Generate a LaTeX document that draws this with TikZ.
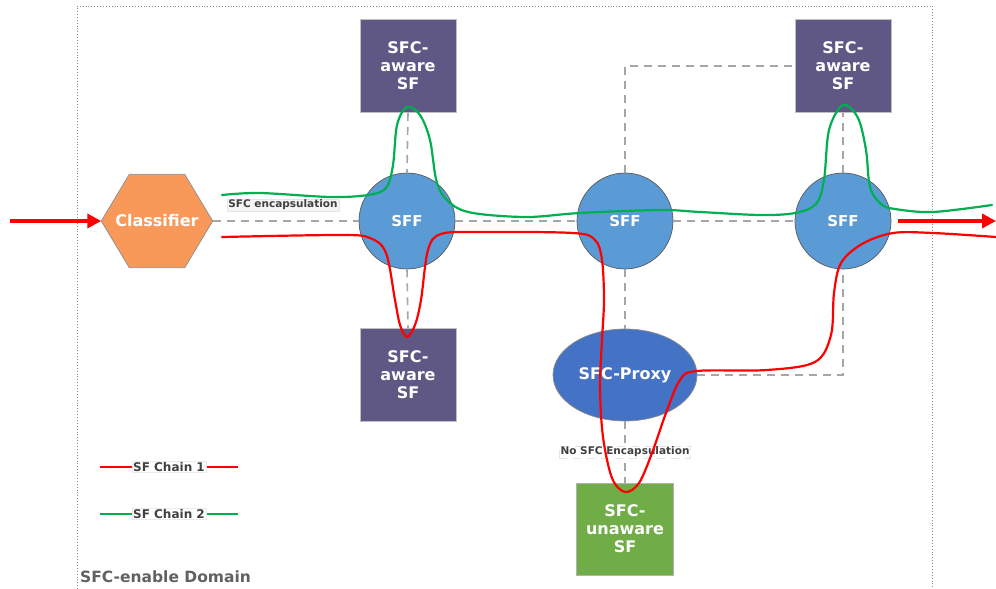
\documentclass[tikz,border=0pt]{standalone}
\usepackage{fontspec}
\setmainfont{DejaVu Sans}
\usetikzlibrary{shapes.geometric,arrows.meta}
\definecolor{cls}{HTML}{F8995A}
\definecolor{sffc}{HTML}{5B9BD5}
\definecolor{sfpurple}{HTML}{5F5784}
\definecolor{proxyc}{HTML}{4472C4}
\definecolor{unaw}{HTML}{70AD47}
\definecolor{chainred}{HTML}{FF0000}
\definecolor{chaingreen}{HTML}{00B050}
\definecolor{dashc}{HTML}{A6A6A6}
\definecolor{txtgray}{HTML}{404040}
\tikzset{
  x=1pt, y=-1pt,
  lbl/.style={font=\bfseries\fontsize{16}{18}\selectfont, text=white, align=center},
  sffnode/.style={circle, draw=black!65, line width=0.7pt, fill=sffc, minimum size=96pt, inner sep=0pt, lbl, font=\bfseries\fontsize{15}{18}\selectfont},
  sfbox/.style={rectangle, draw=black!25, line width=0.7pt, fill=sfpurple, minimum width=96pt, minimum height=93pt, inner sep=0pt, lbl},
  dashline/.style={draw=dashc, line width=1.6pt, dash pattern=on 8pt off 6pt},
  chain/.style={line width=2.2pt, line cap=round, smooth, tension=0.55},
  bigarrow/.style={draw=chainred, line width=3.5pt, -{Triangle[length=14pt,width=14pt]}},
  smalllbl/.style={font=\bfseries\fontsize{10.5}{12}\selectfont, text=txtgray, fill=black!4, draw=black!10, line width=0.4pt, inner sep=1.2pt},
  leglbl/.style={font=\bfseries\fontsize{12}{14}\selectfont, text=txtgray, fill=white, draw=black!8, line width=0.4pt, inner sep=1pt}
}
\begin{document}
\begin{tikzpicture}
\useasboundingbox (0,0) rectangle (996,589);
% domain border
\draw[black!45, line width=0.9pt, dotted] (77,589) -- (77,6) -- (932,6) -- (932,589);
% classifier hexagon
\node[rectangle, minimum width=111pt, minimum height=93pt, inner sep=0pt] (cls) at (157,221) {};
\fill[cls, draw=black!45, line width=0.7pt] (cls.west) -- ([xshift=28pt]cls.north west) -- ([xshift=-28pt]cls.north east) -- (cls.east) -- ([xshift=-28pt]cls.south east) -- ([xshift=28pt]cls.south west) -- cycle;
\node[lbl] (clstxt) at (cls.center) {Classifier};
% nodes
\node[sffnode] (sff1) at (407,221) {SFF};
\node[sffnode] (sff2) at (625,221) {SFF};
\node[sffnode] (sff3) at (843,221) {SFF};
\node[sfbox] (sfa) at (408,66) {SFC-\\aware\\SF};
\node[sfbox] (sfb) at (408,375) {SFC-\\aware\\SF};
\node[sfbox] (sfc) at (843,66) {SFC-\\aware\\SF};
\node[ellipse, draw=black!45, line width=0.7pt, fill=proxyc, minimum width=144pt, minimum height=92pt, inner sep=0pt, lbl] (proxy) at (625,375) {SFC-Proxy};
\node[rectangle, draw=black!30, line width=0.7pt, fill=unaw, minimum width=97pt, minimum height=92pt, inner sep=0pt, lbl] (sfu) at (625,529) {SFC-\\unaware\\SF};
% dashed links
\draw[dashline] (cls.east) -- (sff1.west);
\draw[dashline] (sff1.east) -- (sff2.west);
\draw[dashline] (sff2.east) -- (sff3.west);
\draw[dashline] (sfa.south) -- (sff1.north);
\draw[dashline] (sff1.south) -- (sfb.north);
\draw[dashline] (sff2.north) |- (sfc.west);
\draw[dashline] (sff3.north) -- (sfc.south);
\draw[dashline] (sff2.south) -- (proxy.north);
\draw[dashline] (proxy.east) -| (sff3.south);
\draw[dashline] (proxy.south) -- node[smalllbl, fill=white, pos=0.5] (nolbl) {No SFC Encapsulation} (sfu.north);
\node[smalllbl] (enclbl) at (283,205) {SFC encapsulation};
% chains
\draw[chain, draw=chaingreen] plot coordinates {(222,195) (260,193) (330,197) (368,195) (386,188) (393,165) (397,125) (407,107) (420,115) (430,140) (437,183) (450,203) (473,213) (527,217) (580,213) (660,210) (700,212) (760,215) (795,213) (816,204) (824,180) (829,130) (843,105) (858,118) (866,150) (870,187) (881,204) (895,209) (933,212) (992,205)};
\draw[chain, draw=chainred] plot coordinates {(222,237) (340,235) (370,238) (386,253) (395,300) (400,325) (407,337) (415,325) (421,300) (428,250) (441,234) (480,232) (573,233) (595,240) (602,260) (604,300) (602,340) (600,387) (603,437) (612,478) (625,492) (639,483) (652,453) (666,413) (680,380) (697,371) (767,370) (815,362) (831,335) (834,293) (841,263) (862,244) (893,233) (933,233) (996,237)};
% big arrows
\coordinate (instart) at (10,221);
\coordinate (outend) at (996,221);
\coordinate (outstart) at (898,221);
\draw[bigarrow] (instart) -- (cls.west);
\draw[bigarrow] (outstart) -- (outend);
% legend
\coordinate (l1a) at (100,467); \coordinate (l1b) at (238,467);
\coordinate (l2a) at (100,514); \coordinate (l2b) at (238,514);
\draw[chainred, line width=2.2pt] (l1a) -- node[leglbl] (leg1) {SF Chain 1} (l1b);
\draw[chaingreen, line width=2.2pt] (l2a) -- node[leglbl] (leg2) {SF Chain 2} (l2b);
\node[anchor=west, font=\bfseries\fontsize{15.5}{18}\selectfont, text=black!62, inner sep=0pt] (dom) at (80,577) {SFC-enable Domain};
\end{tikzpicture}
\end{document}
